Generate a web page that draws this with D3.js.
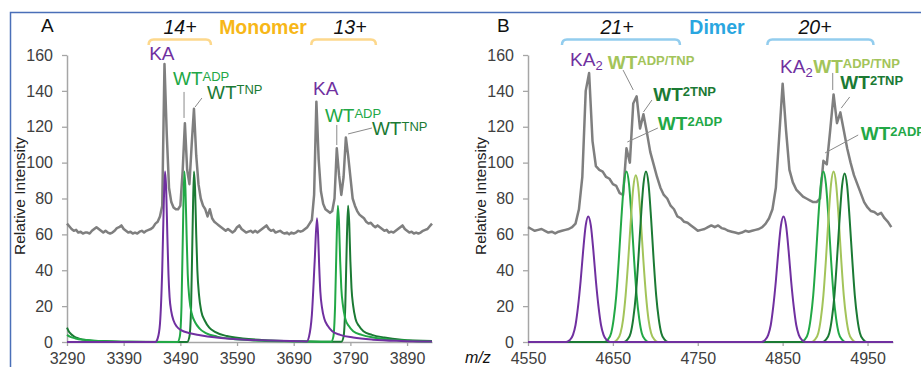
<!DOCTYPE html>
<html>
<head>
<meta charset="utf-8">
<script src="https://cdn.jsdelivr.net/npm/d3@7"></script>
<style>
  body { margin: 0; background: #fff; }
  text { font-family: "Liberation Sans", Arial, sans-serif; }
</style>
</head>
<body>
<svg id="chart" width="921" height="367"></svg>
<script>
// ---- data ----
var ticksY = [0, 20, 40, 60, 80, 100, 120, 140, 160];
var ticksA = [3290, 3390, 3490, 3590, 3690, 3790, 3890];
var ticksB = [4550, 4650, 4750, 4850, 4950];

// measured spectrum, panel A (m/z 3290.. every 4)
var specA_mz0 = 3290, specA_step = 4;
var specA = [
  66, 64.5, 63, 62, 62.5, 61, 61.5, 60.5, 61, 61,
  60.5, 62, 63, 64, 63, 62, 61, 62, 61, 60.5,
  61, 62, 63.5, 64, 65, 63, 62, 61, 61.5, 60.5,
  61, 60.5, 61.5, 62, 61, 62, 62.5, 63, 64, 66,
  67, 70, 76, 155, 116, 86, 78, 75, 74, 74,
  76, 95, 122, 96, 88, 110, 130, 104, 88, 80,
  76, 74, 70, 74, 69, 67, 66, 65, 64, 63,
  62, 63, 62, 61, 62, 64, 65, 63, 62, 61,
  61.5, 62, 61, 62, 61, 62, 63, 64, 65, 63,
  62, 62.5, 61, 61.5, 62, 61, 60.5, 61, 60, 61,
  60.5, 61, 62, 61.5, 62, 63, 64, 66, 68, 82,
  134, 102, 84, 77, 74, 73, 72, 73, 80, 108,
  93, 82, 92, 114, 104, 92, 80, 76, 73, 71,
  70, 69, 67, 66, 66.5, 65, 64, 65, 64, 63,
  62, 62.5, 61, 61.5, 61, 62, 63, 64, 65, 63,
  62, 61, 61.5, 60.5, 61, 60.5, 61, 62, 62.5, 63,
  64.5, 66
];

// measured spectrum, panel B (m/z 4550.. every 4)
var specB_mz0 = 4550, specB_step = 4;
var specB = [
  64, 63, 62, 62.5, 63, 62, 61, 61.5, 60.5, 61.5,
  62, 62.5, 63, 64, 66, 74, 92, 140, 150, 112,
  98, 96, 95, 92, 91, 88, 87, 83, 82, 108,
  100, 133, 137, 119, 127, 117, 106, 99, 92, 86,
  82, 80, 76, 74, 70, 69, 67, 66.5, 65, 63.5,
  62, 62.5, 63, 64, 65, 64, 65, 63.5, 63, 62,
  61.5, 61, 60.5, 61, 62, 61.5, 62, 62.5, 63, 64,
  66, 69, 74, 86, 115, 144, 118, 96, 89, 85,
  83, 81, 80, 79, 78, 78, 80, 101, 99, 118,
  138, 122, 128, 118, 108, 100, 93, 88, 83, 78,
  75, 73, 72.5, 71, 72, 69, 67, 64
];

// simulated distributions, panel A  [m/z, intensity]
var kaA = [[3290,0],[3446,0],[3450,2],[3454,10],[3458,40],[3461,80],[3463,95],[3465,85],[3467,60],[3469,38],
  [3471,25],[3474,17],[3478,12],[3484,8.5],[3492,6.5],[3505,5],[3525,3.8],[3550,2.6],[3590,1.5],[3650,0.8],
  [3700,0.4],[3713,0.3],[3717,3],[3722,15],[3727,45],[3731,69],[3733,60],[3735,42],[3737,28],[3740,19],
  [3744,13],[3750,9],[3758,6],[3772,4],[3795,2.5],[3830,1.3],[3880,0.6],[3934,0.3]];
var adpA = [[3290,4],[3295,3],[3305,2],[3320,1.2],[3350,0.5],[3400,0.1],[3485,0],[3489,3],[3492,20],[3495,70],
  [3497,95],[3499,85],[3501,60],[3503,38],[3506,24],[3510,16],[3516,11],[3524,7.5],[3535,5],[3555,3],
  [3580,1.8],[3620,0.9],[3680,0.4],[3740,0.2],[3756,0.1],[3760,3],[3763,20],[3766,60],[3768,76],[3770,66],
  [3772,45],[3774,30],[3777,20],[3781,13],[3787,9],[3795,6],[3810,4],[3830,2.5],[3860,1.3],[3900,0.6],[3934,0.3]];
var tnpA = [[3290,8],[3293,6],[3297,4.5],[3302,3.2],[3310,2],[3325,1],[3350,0.5],[3400,0.1],[3502,0],[3506,3],
  [3509,20],[3512,70],[3514,95],[3516,85],[3518,60],[3520,40],[3523,26],[3527,17],[3533,12],[3541,8],
  [3552,5.5],[3572,3.3],[3600,2],[3640,1],[3700,0.4],[3770,0.1],[3774,0.1],[3778,3],[3781,20],[3784,60],
  [3786,76],[3788,66],[3790,45],[3792,30],[3795,20],[3799,13],[3805,9],[3813,6],[3828,4],[3850,2.5],
  [3880,1.3],[3934,0.6]];

// simulated distributions, panel B
var ka2B = [[4550,0],[4595,0],[4599,1],[4603,4],[4606,9.5],[4609,20],[4612,34],[4615,51],[4618,65],[4621,70],
  [4624,65],[4627,51],[4630,34],[4633,20],[4636,9.5],[4639,4],[4643,1],[4647,0],[4825,0],[4829,1],
  [4833,4],[4836,9.5],[4839,20],[4842,34],[4845,51],[4848,65],[4851,70],[4854,65],[4857,51],[4860,34],
  [4863,20],[4866,9.5],[4869,4],[4873,1],[4877,0],[4980,0]];
var adp2B = [[4550,0],[4640,0],[4644,1.3],[4648,5],[4651,13],[4654,26],[4657,46],[4660,69],[4663,88],[4666,95],
  [4669,88],[4672,69],[4675,46],[4678,26],[4681,13],[4684,5],[4688,1.3],[4692,0],[4872,0],[4876,1.3],
  [4880,5],[4883,13],[4886,26],[4889,46],[4892,69],[4895,88],[4898,95],[4901,88],[4904,69],[4907,46],
  [4910,26],[4913,13],[4916,5],[4920,1.3],[4924,0],[4980,0]];
var adpTnpB = [[4550,0],[4651,0],[4655,1.3],[4659,5],[4662,12.5],[4665,26],[4668,45],[4671,67],[4674,86],[4677,93],
  [4680,86],[4683,67],[4686,45],[4689,26],[4692,12.5],[4695,5],[4699,1.3],[4703,0],[4884,0],[4888,1.3],
  [4892,5],[4895,13],[4898,26],[4901,46],[4904,69],[4907,88],[4910,95],[4913,88],[4916,69],[4919,46],
  [4922,26],[4925,13],[4928,5],[4932,1.3],[4936,0],[4980,0]];
var tnp2B = [[4550,0],[4663,0],[4667,1.3],[4671,5],[4674,13],[4677,26],[4680,46],[4683,69],[4686,88],[4689,95],
  [4692,88],[4695,69],[4698,46],[4701,26],[4704,13],[4707,5],[4711,1.3],[4715,0],[4897,0],[4901,1.3],
  [4905,5],[4908,13],[4911,26],[4914,46],[4917,68],[4920,87],[4923,94],[4926,87],[4929,68],[4932,46],
  [4935,26],[4938,13],[4941,5],[4945,1.3],[4949,0],[4980,0]];

// ---- colours ----
var grey = "#7f7f7f";
var purple = "#7030a0";
var greenMid = "#22a846";
var greenDark = "#1b7a34";
var greenLight = "#a3c45a";
var orange = "#f7b718";
var orangeLight = "#fdd88c";
var blue = "#2aa6e0";
var blueLight = "#93cdee";

var svg = d3.select("#chart");

// frame
svg.append("rect")
    .attr("x", 10.5).attr("y", 12.5)
    .attr("width", 940).attr("height", 400)
    .attr("fill", "none")
    .attr("stroke", "#4a6fb8")
    .attr("stroke-width", 1.5);

var y = d3.scaleLinear().domain([0, 160]).range([342, 55]);
var xA = d3.scaleLinear().domain([3290, 3934]).range([67, 432]);
var xB = d3.scaleLinear().domain([4550, 4980]).range([528, 893]);

function toPairs(vals, mz0, step) {
    return vals.map(function (v, i) { return [mz0 + i * step, v]; });
}

function drawAxes(x, ticksX) {
    var gy = svg.append("g")
        .attr("transform", "translate(" + x.range()[0] + ",0)")
        .call(d3.axisLeft(y).tickValues(ticksY).tickSize(5).tickPadding(9).tickSizeOuter(0));
    var gx = svg.append("g")
        .attr("transform", "translate(0," + y(0) + ")")
        .call(d3.axisBottom(x).tickValues(ticksX).tickFormat(d3.format("d"))
            .tickSize(4).tickPadding(7).tickSizeOuter(0));
    [gy, gx].forEach(function (g) {
        g.attr("font-size", null).attr("font-family", null);
        g.select(".domain").attr("stroke", "#a6a6a6").attr("stroke-width", 1.5);
        g.selectAll(".tick line").attr("stroke", "#a6a6a6").attr("stroke-width", 1.3);
        g.selectAll(".tick text").attr("fill", "#404040").style("font-size", "16px");
    });
}

function drawLine(x, data, color, width, curve) {
    var line = d3.line()
        .x(function (d) { return x(d[0]); })
        .y(function (d) { return y(d[1]); });
    if (curve) line.curve(curve);
    svg.append("path")
        .datum(data)
        .attr("d", line)
        .attr("fill", "none")
        .attr("stroke", color)
        .attr("stroke-width", width)
        .attr("stroke-linejoin", "round");
}

function label(x, mz, val, main, sup, sub, color, bold) {
    var t = svg.append("text")
        .attr("x", x(mz)).attr("y", y(val))
        .attr("fill", color)
        .style("font-size", "19px")
        .style("font-weight", bold ? "bold" : "normal");
    t.append("tspan").text(main);
    if (sup) t.append("tspan").attr("dy", -4.5).style("font-size", "13px").text(sup);
    if (sub) t.append("tspan").attr("dy", 4).style("font-size", "13px").text(sub);
}

function leader(x, m1, v1, m2, v2) {
    svg.append("line")
        .attr("x1", x(m1)).attr("y1", y(v1))
        .attr("x2", x(m2)).attr("y2", y(v2))
        .attr("stroke", "#8a8a8a").attr("stroke-width", 1);
}

function bracket(x, m1, m2, color) {
    var x1 = x(m1), x2 = x(m2), top = 39.5, bot = 45;
    svg.append("path")
        .attr("d", "M" + x1 + "," + bot + "Q" + x1 + "," + top + " " + (x1 + 5) + "," + top +
            "L" + (x2 - 5) + "," + top + "Q" + x2 + "," + top + " " + x2 + "," + bot)
        .attr("fill", "none").attr("stroke", color).attr("stroke-width", 2.5);
}

function yTitle(xpos) {
    svg.append("text")
        .attr("transform", "translate(" + xpos + ",196) rotate(-90)")
        .attr("text-anchor", "middle")
        .attr("fill", "#222")
        .style("font-size", "15.5px")
        .text("Relative Intensity");
}

function topText(xpos, txt, color, italic, bold) {
    svg.append("text")
        .attr("x", xpos).attr("y", 34)
        .attr("text-anchor", "middle")
        .attr("fill", color)
        .style("font-size", "19.5px")
        .style("font-style", italic ? "italic" : "normal")
        .style("font-weight", bold ? "bold" : "normal")
        .text(txt);
}

// ---- panel A ----
drawAxes(xA, ticksA);
drawLine(xA, toPairs(specA, specA_mz0, specA_step), grey, 2.5);
drawLine(xA, tnpA, greenDark, 2, d3.curveMonotoneX);
drawLine(xA, adpA, greenMid, 2, d3.curveMonotoneX);
drawLine(xA, kaA, purple, 2, d3.curveMonotoneX);
yTitle(25);

svg.append("text").attr("x", 41).attr("y", 32).attr("fill", "#111").style("font-size", "19px").text("A");
topText(180, "14+", "#111", true, false);
topText(263, "Monomer", orange, false, true);
topText(350, "13+", "#111", true, false);
bracket(xA, 3434, 3544, orangeLight);
bracket(xA, 3721, 3835, orangeLight);

label(xA, 3435, 157, "KA", null, null, purple, false);
label(xA, 3477, 143, "WT", "ADP", null, greenMid, false);
label(xA, 3537, 135.5, "WT", "TNP", null, greenDark, false);
label(xA, 3724, 137.7, "KA", null, null, purple, false);
label(xA, 3745, 122.6, "WT", "ADP", null, greenMid, false);
label(xA, 3828, 115.4, "WT", "TNP", null, greenDark, false);
leader(xA, 3496.5, 139.4, 3496.5, 124.9);
leader(xA, 3516, 131, 3528, 136);
leader(xA, 3766, 121, 3766, 109.8);
leader(xA, 3786, 116, 3828, 119.3);

svg.append("text").attr("x", 465).attr("y", 363).attr("fill", "#111")
    .style("font-size", "16px").style("font-style", "italic").text("m/z");

// ---- panel B ----
drawAxes(xB, ticksB);
drawLine(xB, toPairs(specB, specB_mz0, specB_step), grey, 2.5);
drawLine(xB, adp2B, greenMid, 2, d3.curveMonotoneX);
drawLine(xB, adpTnpB, greenLight, 2, d3.curveMonotoneX);
drawLine(xB, tnp2B, greenDark, 2, d3.curveMonotoneX);
drawLine(xB, ka2B, purple, 2, d3.curveMonotoneX);
yTitle(486);

svg.append("text").attr("x", 497).attr("y", 32).attr("fill", "#111").style("font-size", "19px").text("B");
topText(617, "21+", "#111", true, false);
topText(717, "Dimer", blue, false, true);
topText(815, "20+", "#111", true, false);
bracket(xB, 4590, 4729, blueLight);
bracket(xB, 4832, 4957, blueLight);

label(xB, 4599.6, 154, "KA", null, "2", purple, false);
label(xB, 4644, 152, "WT", "ADP/TNP", null, greenLight, true);
label(xB, 4697.5, 134.5, "WT", "2TNP", null, greenDark, true);
label(xB, 4703, 118, "WT", "2ADP", null, greenMid, true);
label(xB, 4847, 150, "KA", null, "2", purple, false);
label(xB, 4886, 150, "WT", "ADP/TNP", null, greenLight, true);
label(xB, 4918, 141, "WT", "2TNP", null, greenDark, true);
label(xB, 4942, 112.6, "WT", "2ADP", null, greenMid, true);
leader(xB, 4662, 151.6, 4674, 140.5);
leader(xB, 4686, 128.2, 4696, 134.9);
leader(xB, 4667, 111.5, 4703, 119.3);
leader(xB, 4909, 150, 4909, 140.5);
leader(xB, 4919, 130.4, 4929, 136.6);
leader(xB, 4900, 105.4, 4939, 115.4);
</script>
</body>
</html>
